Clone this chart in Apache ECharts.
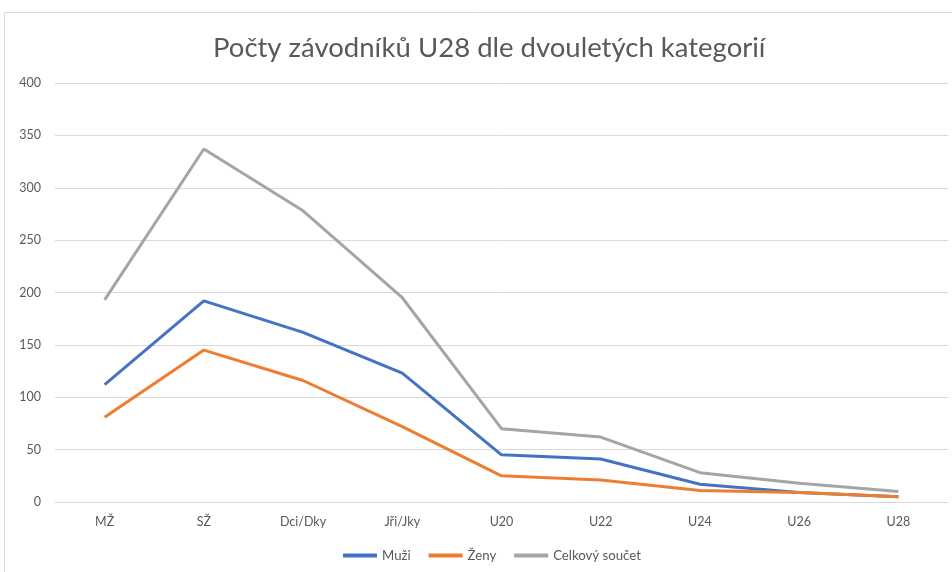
<!DOCTYPE html>
<html>
<head>
<meta charset="utf-8">
<script src="https://cdn.jsdelivr.net/npm/echarts@6/dist/echarts.min.js"></script>
<style>
  html, body { margin: 0; padding: 0; background: #fff; }
  #chart { width: 952px; height: 572px; }
</style>
</head>
<body>
<div id="chart"></div>
<script>
var categories = ['MŽ', 'SŽ', 'Dci/Dky', 'Jři/Jky', 'U20', 'U22', 'U24', 'U26', 'U28'];
var muzi = [112, 192, 162, 123, 45, 41, 17, 9, 5];
var zeny = [81, 145, 116, 72, 25, 21, 11, 9, 5];
var celkem = [193, 337, 278, 195, 70, 62, 28, 18, 10];
var yTicks = [0, 50, 100, 150, 200, 250, 300, 350, 400];

var chart = echarts.init(document.getElementById('chart'));
var txt = '#595959';
var font = 'Lato, "Noto Sans", sans-serif';

chart.setOption({
  animation: false,
  color: ['#4472C4', '#ED7D31', '#A5A5A5'],
  graphic: [{
    type: 'rect',
    shape: { x: 4.5, y: 12.5, width: 960, height: 580 },
    style: { fill: 'none', stroke: '#D9D9D9', lineWidth: 1 },
    silent: true
  }],
  title: {
    text: 'Počty závodníků U28 dle dvouletých kategorií',
    left: 208,
    top: 29,
    textStyle: { color: txt, fontSize: 27.5, fontWeight: 'normal', fontFamily: font }
  },
  legend: {
    bottom: 5,
    left: 338,
    icon: 'rect',
    itemWidth: 34,
    itemHeight: 4,
    itemGap: 18,
    textStyle: { color: txt, fontSize: 13.2, fontFamily: font },
    data: ['Muži', 'Ženy', 'Celkový součet']
  },
  grid: { left: 55, right: 4, top: 83, bottom: 70, containLabel: false },
  xAxis: {
    type: 'category',
    data: categories,
    boundaryGap: true,
    axisLine: { lineStyle: { color: '#D9D9D9' } },
    axisTick: { show: false },
    axisLabel: { color: txt, fontSize: 12.5, margin: 13, fontFamily: font }
  },
  yAxis: {
    type: 'value',
    min: yTicks[0],
    max: yTicks[yTicks.length - 1],
    interval: 50,
    axisLine: { show: false },
    axisTick: { show: false },
    axisLabel: { color: txt, fontSize: 12.5, margin: 14, fontFamily: font },
    splitLine: { lineStyle: { color: '#D9D9D9' } }
  },
  series: [
    { name: 'Muži', type: 'line', data: muzi, showSymbol: false, lineStyle: { width: 3 } },
    { name: 'Ženy', type: 'line', data: zeny, showSymbol: false, lineStyle: { width: 3 } },
    { name: 'Celkový součet', type: 'line', data: celkem, showSymbol: false, lineStyle: { width: 3 } }
  ]
});
</script>
</body>
</html>
